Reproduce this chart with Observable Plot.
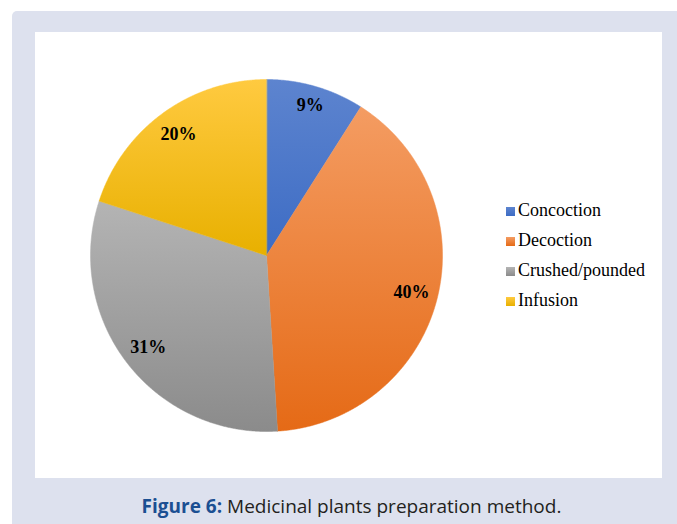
<!DOCTYPE html>
<html>
<head>
<meta charset="utf-8">
<script src="https://cdn.jsdelivr.net/npm/d3@7"></script>
<script src="https://cdn.jsdelivr.net/npm/@observablehq/plot@0.6"></script>
<style>
  html, body { margin: 0; padding: 0; background: #ffffff; }
  #page { position: relative; width: 677px; height: 524px; overflow: hidden; }
  #bg { position: absolute; left: 12px; top: 11px; width: 680px; height: 530px; background: #dde1ee; border-top-left-radius: 5px; }
  #panel { position: absolute; left: 35px; top: 32px; width: 627px; height: 446px; background: #ffffff; }
  #chart { position: absolute; left: 0; top: 0; }
  .leg { position: absolute; left: 471px; font-family: "Liberation Serif", "Times New Roman", serif; font-size: 18px; color: #000; white-space: nowrap; line-height: 1; }
  .sw { display: inline-block; width: 9px; height: 9px; margin-right: 3px; }
  #caption { position: absolute; left: 0; width: 703px; top: 493px; text-align: center; font-family: "Open Sans", "Noto Sans", sans-serif; font-size: 19px; color: #231f20; white-space: nowrap; }
  #caption b { color: #1b4f92; font-weight: 700; }
</style>
</head>
<body>
<div id="page">
  <div id="bg"></div>
  <div id="panel"><div id="chart"></div><div id="legend"></div></div>
  <div id="caption"><b>Figure 6:</b> Medicinal plants preparation method.</div>
</div>
<script>
const categories = ["Concoction", "Decoction", "Crushed/pounded", "Infusion"];
const values = [9, 40, 31, 20];
const percentLabels = ["9%", "40%", "31%", "20%"];
const gradTop = ["#5d84cf", "#f49c62", "#b4b4b4", "#ffca40"];
const gradBottom = ["#3d6cc4", "#e56a16", "#8b8b8b", "#e8b000"];

const arcs = d3.pie().sort(null)(values);

const marks = [];
arcs.forEach((a, i) => {
  const pts = [{x: 0, y: 0}];
  const n = Math.max(8, Math.ceil((a.endAngle - a.startAngle) / 0.005));
  for (let k = 0; k <= n; k++) {
    const t = a.startAngle + (a.endAngle - a.startAngle) * k / n;
    pts.push({x: Math.sin(t), y: Math.cos(t)});
  }
  marks.push(Plot.line(pts, {x: "x", y: "y", curve: "linear-closed", fill: `url(#g${i})`, stroke: `url(#g${i})`, strokeWidth: 0.5}));
});

const labelData = arcs.map((a, i) => {
  const mid = (a.startAngle + a.endAngle) / 2;
  const r = i === 0 ? 0.89 : 0.85;
  return {x: r * Math.sin(mid), y: r * Math.cos(mid), label: percentLabels[i]};
});
marks.push(Plot.text(labelData, {x: "x", y: "y", text: "label", fontWeight: "bold", fontSize: 18, fontFamily: "Liberation Serif, Times New Roman, serif", fill: "#000"}));

const cx = 231, cy = 223, R = 176;
const svg = Plot.plot({
  width: 627,
  height: 446,
  margin: 0,
  x: {domain: [-1, 1], range: [cx - R, cx + R], axis: null},
  y: {domain: [-1, 1], range: [cy + R, cy - R], axis: null},
  style: {background: "transparent", overflow: "visible"},
  marks
});

const ns = "http://www.w3.org/2000/svg";
const defs = document.createElementNS(ns, "defs");
categories.forEach((c, i) => {
  const g = document.createElementNS(ns, "linearGradient");
  g.setAttribute("id", `g${i}`);
  g.setAttribute("x1", "0"); g.setAttribute("y1", "0");
  g.setAttribute("x2", "0"); g.setAttribute("y2", "1");
  [[0, gradTop[i]], [1, gradBottom[i]]].forEach(([o, col]) => {
    const s = document.createElementNS(ns, "stop");
    s.setAttribute("offset", o);
    s.setAttribute("stop-color", col);
    g.appendChild(s);
  });
  defs.appendChild(g);
});
svg.insertBefore(defs, svg.firstChild);
document.getElementById("chart").appendChild(svg);

const legend = document.getElementById("legend");
categories.forEach((c, i) => {
  const d = document.createElement("div");
  d.className = "leg";
  d.style.top = (169 + i * 30) + "px";
  const sw = document.createElement("span");
  sw.className = "sw";
  sw.style.background = `linear-gradient(${gradTop[i]}, ${gradBottom[i]})`;
  d.appendChild(sw);
  d.appendChild(document.createTextNode(c));
  legend.appendChild(d);
});
</script>
</body>
</html>
